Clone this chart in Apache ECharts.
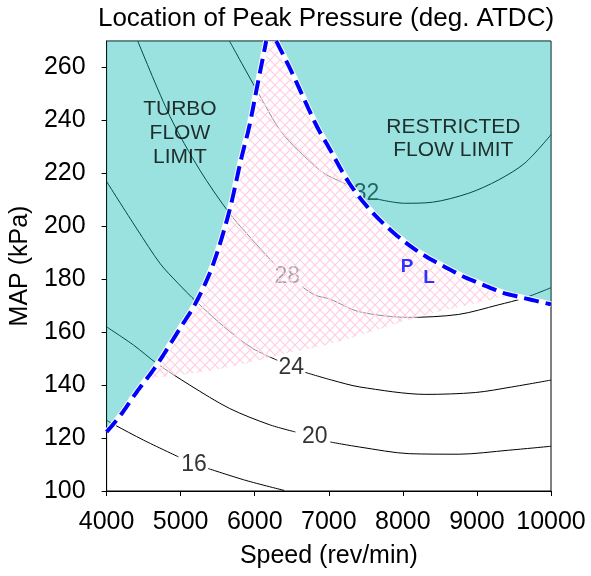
<!DOCTYPE html>
<html><head><meta charset="utf-8">
<script src="https://cdn.jsdelivr.net/npm/echarts@6/dist/echarts.min.js"></script>
<style>html,body{margin:0;padding:0;background:#fff}#c{width:591px;height:576px}</style>
</head><body><div id="c"></div>
<script>
// ---- axis ticks ----
const xTicks = [4000, 5000, 6000, 7000, 8000, 9000, 10000];
const yTicks = [100, 120, 140, 160, 180, 200, 220, 240, 260];

// ---- contour levels and their label positions ----
const contourLevels = ['16', '20', '24', '28', '32'];
const contourLabelPos = [[5180, 110.1], [6810, 120.4], [6494, 146.6], [6438, 181.1], [7508, 212.2]];

// each contour split into the part before and after its inline label
const c16a = [[4000, 126.7], [4100, 125.1], [4500, 119.2], [4970, 112.9]];
const c16b = [[5370, 108.5], [5880, 104.0], [6400, 100.2]];
const c20a = [[4000, 162.0], [4365, 155.1], [4677, 148.2], [5124, 140.0], [5659, 131.2], [6193, 125.1], [6549, 122.3]];
const c20b = [[7020, 118.5], [7419, 116.6], [8087, 114.1], [8756, 113.9], [9425, 115.4], [10000, 116.9]];
const c24a = [[4000, 216.9], [4409, 199.0], [4726, 185.8], [4967, 178.4], [5212, 171.5], [5613, 161.4], [5970, 153.9], [6304, 149.4]];
const c24b = [[6683, 144.8], [7040, 141.9], [7419, 139.3], [8311, 136.5], [8980, 137.2], [9470, 139.3], [10000, 141.9]];
const c28a = [[4420, 270], [4856, 241.5], [5257, 221.3], [5659, 204.9], [5970, 194.8], [6260, 186.0]];
const c28b = [[6639, 177.2], [6813, 174.0], [7013, 172.5], [7415, 167.7], [8083, 165.6], [8752, 166.7], [9287, 170.3], [9648, 173.0], [10000, 176.8]];
const c32a = [[5659, 270], [6024, 251.6], [6371, 235.2], [6817, 222.6], [6973, 219.4], [7308, 215.0]];
const c32b = [[7665, 210.2], [8021, 208.7], [8400, 209.1], [8890, 212.5], [9291, 217.5], [9648, 223.9], [10000, 234.6]];

// ---- flow limit boundaries ----
const turboLimit = [[4000, 122.3], [4187, 128.6], [4409, 137.5], [4677, 147.6], [4990, 161.4], [5212, 171.5], [5435, 185.4], [5650, 205.0], [5814, 225.1], [5926, 237.7], [6024, 251.6], [6155, 270]];
const restrictedLimit = [[6290, 270], [6505, 257.9], [6817, 239.0], [7000, 229.8], [7308, 215.0], [7686, 202.4], [8177, 191.0], [8732, 182.2], [8979, 179.1], [9311, 175.3], [9470, 174.0], [10000, 170.5]];
const pinkLower = [[4545, 142.5], [5300, 145.0], [5970, 148.8], [6420, 152.0], [7010, 155.5], [7640, 160.8], [8310, 166.5], [8980, 170.9], [9470, 174.0]];
const yTop = 270, xLeft = 4000, xRight = 10000;

// ---- annotation texts ----
const turboText = 'TURBO\nFLOW\nLIMIT';
const turboPos = [4990, 235.2];
const restrictedText = 'RESTRICTED\nFLOW LIMIT';
const restrictedPos = [8681, 233.2];
const plText = ['P', 'L'];
const plPos = [[8057, 184.7], [8355, 180.7]];

// ---- rendering helpers (pixel-space smoothing of data-driven curves) ----
function curveSegs(px) {
  const n = px.length, out = [];
  for (let i = 0; i < n - 1; i++) {
    const p0 = px[Math.max(i - 1, 0)], p1 = px[i], p2 = px[i + 1], p3 = px[Math.min(i + 2, n - 1)];
    const c1 = [p1[0] + (p2[0] - p0[0]) / 6, p1[1] + (p2[1] - p0[1]) / 6];
    const c2 = [p2[0] - (p3[0] - p1[0]) / 6, p2[1] - (p3[1] - p1[1]) / 6];
    const s = [];
    for (let k = 0; k <= 16; k++) {
      const t = k / 16, u = 1 - t;
      s.push([
        u * u * u * p1[0] + 3 * u * u * t * c1[0] + 3 * u * t * t * c2[0] + t * t * t * p2[0],
        u * u * u * p1[1] + 3 * u * u * t * c1[1] + 3 * u * t * t * c2[1] + t * t * t * p2[1]
      ]);
    }
    out.push(s);
  }
  return out;
}
const flat = segs => segs.reduce((a, s) => a.concat(s), []);
const rev = segs => flat(segs).slice().reverse();

function shapeSeries(z, build) {
  return {
    type: 'custom', z: z, silent: true, data: [[7000, 185]],
    renderItem: (params, api) => build(p => api.coord(p))
  };
}

// hatch pattern
const pc = document.createElement('canvas');
pc.width = 10; pc.height = 10;
const g = pc.getContext('2d');
g.fillStyle = 'rgba(255,255,255,0.55)';
g.fillRect(0, 0, 10, 10);
g.strokeStyle = 'rgba(255,205,226,1)';
g.lineWidth = 1.2;
g.beginPath();
g.moveTo(-1, -1); g.lineTo(11, 11);
g.moveTo(11, -1); g.lineTo(-1, 11);
g.stroke();
const pinkPattern = { image: pc, repeat: 'repeat' };
const TEAL = 'rgba(0,182,175,0.4)';
const FONT = 'Arial, "Liberation Sans", sans-serif';

function contour(d) {
  return { type: 'line', z: 1, data: d, showSymbol: false, smooth: 0.3, silent: true,
    lineStyle: { color: '#000', width: 1 } };
}

const areaSeries = shapeSeries(2, c => {
  const tSegs = curveSegs(turboLimit.map(c));
  const rSegs = curveSegs(restrictedLimit.map(c));
  const lSegs = curveSegs(pinkLower.map(c));
  const lowY = pinkLower[0][1], endPt = pinkLower[pinkLower.length - 1];
  const rIdx = restrictedLimit.findIndex(p => p[0] === endPt[0] && p[1] === endPt[1]);
  const tIdx = turboLimit.findIndex(p => p[1] > lowY);
  const turboPoly = flat(tSegs).concat([c([xLeft, yTop])]);
  const restrictedPoly = flat(rSegs).concat([c([xRight, yTop])]);
  const pinkPoly = flat(lSegs).concat(rev(rSegs.slice(0, rIdx))).concat(rev(tSegs.slice(tIdx)));
  return {
    type: 'group', children: [
      { type: 'polygon', shape: { points: turboPoly }, style: { fill: TEAL } },
      { type: 'polygon', shape: { points: restrictedPoly }, style: { fill: TEAL } },
      { type: 'polygon', shape: { points: pinkPoly }, style: { fill: pinkPattern } }
    ]
  };
});

const boundarySeries = shapeSeries(3, c => {
  const t = flat(curveSegs(turboLimit.map(c)));
  const r = flat(curveSegs(restrictedLimit.map(c)));
  const mk = (pts, st) => ({ type: 'polyline', shape: { points: pts }, style: Object.assign({ fill: 'none' }, st) });
  const white = { stroke: '#fff', lineWidth: 6 };
  const blue = { stroke: '#0000ff', lineWidth: 4, lineDash: [15, 7] };
  return { type: 'group', children: [mk(t, white), mk(r, white), mk(t, blue), mk(r, blue)] };
});

const chart = echarts.init(document.getElementById('c'), null, { renderer: 'canvas' });
chart.setOption({
  animation: false,
  grid: { left: 103, right: 40, top: 41, bottom: 85, show: true, borderColor: '#000', borderWidth: 1, backgroundColor: 'transparent' },
  graphic: [{
    type: 'text', x: 326, y: 19,
    style: { text: 'Location of Peak Pressure (deg. ATDC)', font: '26px ' + FONT, fill: '#000', textAlign: 'center', textVerticalAlign: 'middle' }
  }],
  xAxis: {
    type: 'value', min: 4000, max: 10000, interval: 1000,
    name: 'Speed (rev/min)', nameLocation: 'middle', nameGap: 53,
    nameTextStyle: { fontSize: 25, fontFamily: FONT, color: '#000' },
    axisLine: { show: true, lineStyle: { color: '#000' } },
    axisTick: { show: true, length: 5, customValues: xTicks, lineStyle: { color: '#000' } },
    axisLabel: { customValues: xTicks, fontSize: 25, fontFamily: FONT, color: '#000', margin: 19, formatter: v => String(v) },
    splitLine: { show: false }
  },
  yAxis: {
    type: 'value', min: 100, max: 270, interval: 20,
    name: 'MAP (kPa)', nameLocation: 'middle', nameGap: 70,
    nameTextStyle: { fontSize: 25, fontFamily: FONT, color: '#000' },
    axisLine: { show: true, lineStyle: { color: '#000' } },
    axisTick: { show: true, length: 5, customValues: yTicks, lineStyle: { color: '#000' } },
    axisLabel: { customValues: yTicks, fontSize: 25, fontFamily: FONT, color: '#000', margin: 21, formatter: v => String(v) },
    splitLine: { show: false }
  },
  series: [
    contour(c16a), contour(c16b), contour(c20a), contour(c20b), contour(c24a), contour(c24b),
    contour(c28a), contour(c28b), contour(c32a), contour(c32b),
    {
      type: 'scatter', z: 1, silent: true, symbolSize: 1, itemStyle: { color: 'rgba(0,0,0,0)' },
      data: contourLabelPos.map((p, i) => ({ value: p, label: { formatter: contourLevels[i] } })),
      label: { show: true, position: 'inside', color: '#000', fontSize: 23, fontFamily: FONT }
    },
    areaSeries,
    boundarySeries,
    {
      type: 'scatter', z: 10, silent: true, symbolSize: 1, itemStyle: { color: 'rgba(0,0,0,0)' },
      data: [
        { value: turboPos, label: { formatter: turboText, lineHeight: 24 } },
        { value: restrictedPos, label: { formatter: restrictedText, lineHeight: 23 } }
      ],
      label: { show: true, position: 'inside', color: '#000', fontSize: 21, fontFamily: FONT, align: 'center' }
    },
    {
      type: 'scatter', z: 10, silent: true, symbolSize: 1, itemStyle: { color: 'rgba(0,0,0,0)' },
      data: plPos.map((p, i) => ({ value: p, label: { formatter: plText[i] } })),
      label: { show: true, position: 'inside', color: '#0000ff', fontSize: 19, fontWeight: 'bold', fontFamily: FONT }
    }
  ]
});
</script></body></html>
